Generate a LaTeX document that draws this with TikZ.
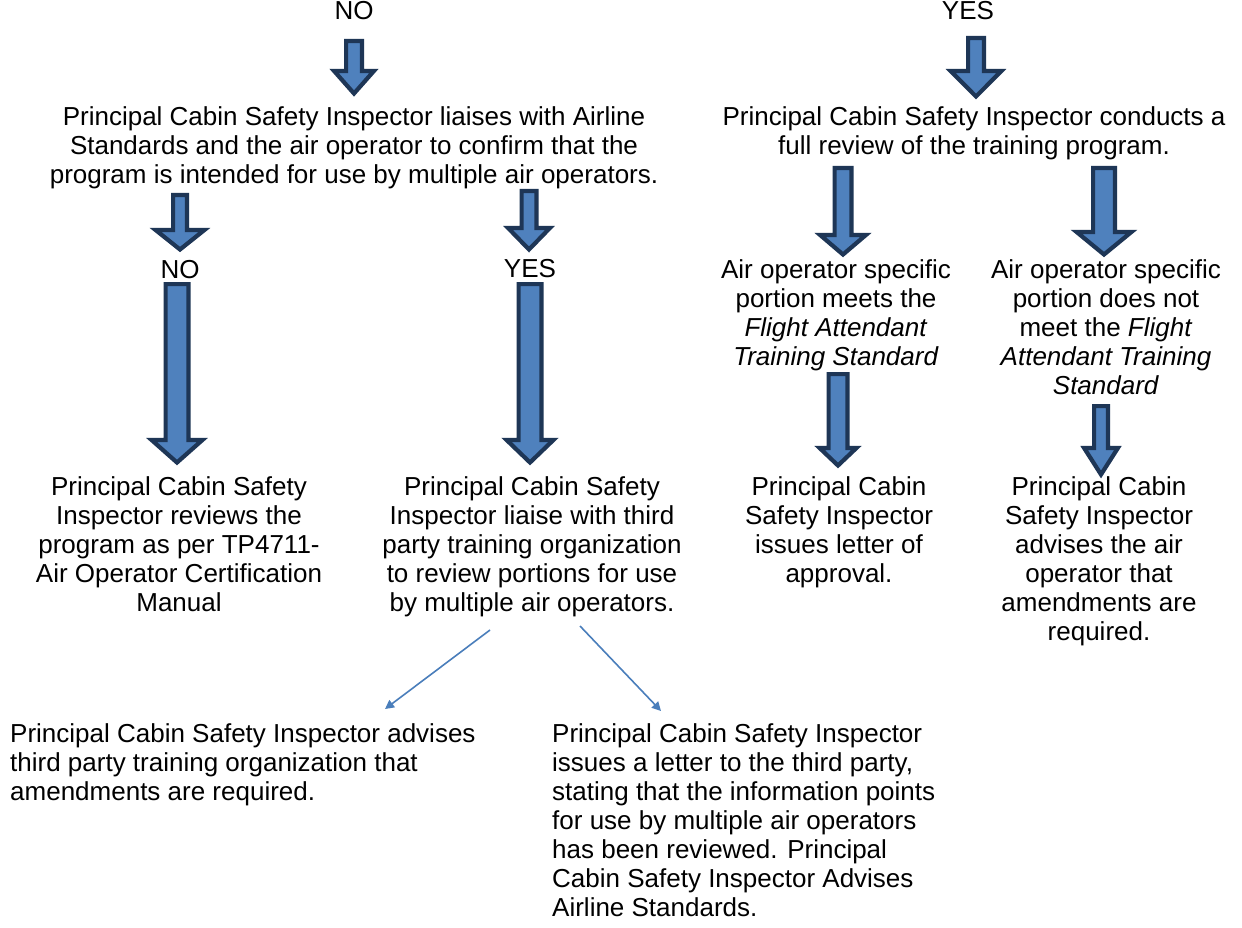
\documentclass[tikz,border=0pt]{standalone}
\usepackage{fontspec}
\setmainfont{Liberation Sans}
\usetikzlibrary{arrows.meta}
\definecolor{bfill}{HTML}{4F81BD}
\definecolor{bline}{HTML}{1E3656}
\definecolor{thinc}{HTML}{4A7EBB}
\tikzset{
 txt/.style={inner sep=0pt, anchor=north, align=center, font=\fontsize{26}{29}\selectfont},
 ltxt/.style={txt, align=left, anchor=north west},
 blk/.style={fill=bfill, draw=bline, line width=4.2pt, miter limit=10, line join=miter},
 thinarr/.style={draw=thinc, line width=1.6pt, -{Triangle[width=9pt,length=9pt]}},
}
\newcommand\barrow[6]{%
 \pgfmathsetmacro\bsw{(#5-4.2)/2}%
 \pgfmathsetmacro\bhw{(#6-4.2)/2}%
 \draw[blk] ({#1-\bsw},{#2+2.1}) -- ({#1+\bsw},{#2+2.1}) -- ({#1+\bsw},#3) -- ({#1+\bhw},#3) -- (#1,{#4-3.5}) -- ({#1-\bhw},#3) -- ({#1-\bsw},#3) -- cycle;
}
\begin{document}
\begin{tikzpicture}[x=1pt,y=-1pt]
\fill[white] (0,0) rectangle (1242,928);
\useasboundingbox (0,0) rectangle (1242,928);

\node[txt] (no1) at (354,-1) {\strut NO};
\node[txt] (yes1) at (968,-1) {\strut YES};
\node[txt] (q1) at (354,105) {\strut Principal Cabin Safety Inspector liaises with Airline\\Standards and the air operator to confirm that the\\program is intended for use by multiple air operators.};
\node[txt] (r1) at (974,105) {\strut Principal Cabin Safety Inspector conducts a\\full review of the training program.};
\node[txt] (no2) at (180,258) {\strut NO};
\node[txt] (yes2) at (530,257) {\strut YES};
\node[txt] (s1) at (836,258) {\strut Air operator specific\\portion meets the\\\textit{Flight Attendant}\\\textit{Training Standard}};
\node[txt] (s2) at (1106,258) {\strut Air operator specific\\portion does not\\meet the \textit{Flight}\\\textit{Attendant Training}\\\textit{Standard}};
\node[txt] (t1) at (179,475) {\strut Principal Cabin Safety\\Inspector reviews the\\program as per TP4711-\\Air Operator Certification\\Manual};
\node[txt] (t2) at (532,475) {\strut Principal Cabin Safety\\Inspector liaise with third\\party training organization\\to review portions for use\\by multiple air operators.};
\node[txt] (t3) at (839,475) {\strut Principal Cabin\\Safety Inspector\\issues letter of\\approval.};
\node[txt] (t4) at (1099,475) {\strut Principal Cabin\\Safety Inspector\\advises the air\\operator that\\amendments are\\required.};
\node[ltxt] (b1) at (10,722) {\strut Principal Cabin Safety Inspector advises\\third party training organization that\\amendments are required.};
\node[ltxt] (b2) at (552,722) {\strut Principal Cabin Safety Inspector\\issues a letter to the third party,\\stating that the information points\\for use by multiple air operators\\has been reviewed. Principal\\Cabin Safety Inspector Advises\\Airline Standards.};

% block arrows: x, top, head start, tip, shaft width, head width
\barrow{354}{39}{71}{97}{20}{44}
\barrow{976}{36}{71}{100}{20}{55}
\barrow{180}{193}{230}{253}{18}{53}
\barrow{529}{189}{228}{253}{19}{46}
\barrow{843}{166}{235}{258}{21}{50}
\barrow{1104}{166}{232}{258}{26}{59}
\barrow{177}{282}{440}{466}{27}{55}
\barrow{530}{282}{440}{466}{27}{51}
\barrow{838}{372}{448}{469}{23}{41}
\barrow{1101}{404}{448}{478}{18}{38}

\coordinate (c1s) at (490,630);
\coordinate (c1e) at (385,709);
\coordinate (c2s) at (580,626);
\coordinate (c2e) at (661,711);
\draw[thinarr] (c1s) -- (c1e);
\draw[thinarr] (c2s) -- (c2e);
\end{tikzpicture}
\end{document}
